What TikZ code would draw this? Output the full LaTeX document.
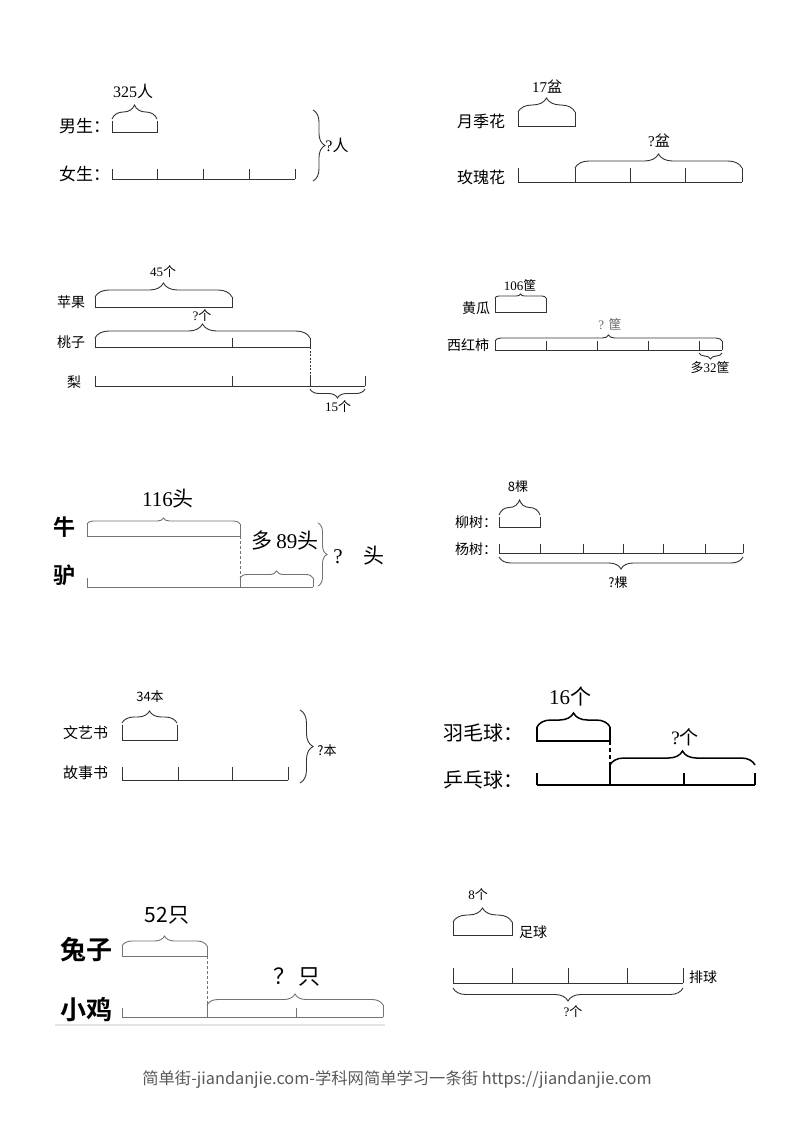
\documentclass[tikz,border=0pt]{standalone}
\usepackage{fontspec}
\setmainfont{Liberation Serif}
\newfontfamily\cjk{Noto Sans CJK SC}[BoldFont={Noto Sans CJK SC Bold}]
\usetikzlibrary{decorations.pathreplacing}
\newcommand\fsz[1]{\fontsize{#1pt}{#1pt}\selectfont}
\begin{document}
\begin{tikzpicture}[x=1pt,y=-1pt,
  ln/.style={line width=0.9pt,draw=black!80},
  thk/.style={line width=1.5pt,draw=black},
  gln/.style={line width=0.9pt,draw=black!55},
  br/.style={decorate,decoration={brace,amplitude=#1},line width=0.9pt,draw=black!80},
  lab/.style={inner sep=0pt,anchor=west},
  val/.style={inner sep=0pt,anchor=center}]
\useasboundingbox[fill=white] (0,0) rectangle (793,1122);

% ---------- 1
\node[lab] (d1a) at (59,126) {\fsz{17}\cjk 男生：};
\node[lab] (d1b) at (59,174) {\fsz{17}\cjk 女生：};
\draw[ln] (112,121) -- (112,132) -- (157,132) -- (157,121);
\draw[br=14] (112,119) -- (157,119);
\node[val] (d1c) at (133,91) {\fsz{16}325\cjk 人};
\draw[ln] (112,179) -- (295,179);
\foreach \xx in {112,157,203,249,295} \draw[ln] (\xx,179) -- (\xx,169);
\draw[br=12] (313,110) -- (313,181);
\node[val] (d1d) at (337,145) {\fsz{16}?\cjk 人};

% ---------- 2
\node[lab] (d2a) at (457,121) {\fsz{16}\cjk 月季花};
\node[lab] (d2b) at (457,177) {\fsz{16}\cjk 玫瑰花};
\draw[ln] (518,112) -- (518,126) -- (575,126) -- (575,112);
\draw[br=14] (518,112) -- (575,112);
\node[val] (d2c) at (547,87) {\fsz{15}17\cjk 盆};
\draw[ln] (518,182) -- (742,182);
\foreach \xx in {518,575,630,685,742} \draw[ln] (\xx,182) -- (\xx,168);
\draw[br=14] (575,168) -- (742,168);
\node[val] (d2d) at (659,141) {\fsz{15}?\cjk 盆};

% ---------- 3
\node[lab] (d3a) at (57,302) {\fsz{14}\cjk 苹果};
\node[lab] (d3b) at (57,342) {\fsz{14}\cjk 桃子};
\node[lab] (d3c) at (67,382) {\fsz{14}\cjk 梨};
\draw[ln] (95,297) -- (95,307) -- (232,307) -- (232,297);
\draw[br=14] (95,297) -- (232,297);
\node[val] (d3d) at (163,272) {\fsz{13}45\cjk 个};
\draw[ln] (95,347) -- (310,347);
\foreach \xx in {95,232,310} \draw[ln] (\xx,347) -- (\xx,338);
\draw[br=14] (95,338) -- (310,338);
\node[val] (d3e) at (202,316) {\fsz{13}?\cjk 个};
\draw[ln,dashed,dash pattern=on 2pt off 1.5pt] (310,347) -- (310,386);
\draw[ln] (95,386) -- (365,386);
\foreach \xx in {95,232,310,365} \draw[ln] (\xx,386) -- (\xx,376);
\draw[br=9] (365,389) -- (310,389);
\node[val] (d3f) at (338,407) {\fsz{13}15\cjk 个};

% ---------- 4
\node[lab] (d4a) at (462,308) {\fsz{14}\cjk 黄瓜};
\node[lab] (d4b) at (447,345) {\fsz{14}\cjk 西红柿};
\draw[ln] (495,298) -- (495,312) -- (546,312) -- (546,298);
\draw[br=4] (495,298) -- (546,298);
\node[val] (d4c) at (520,285) {\fsz{13}106\cjk 筐};
\draw[ln] (495,350) -- (722,350);
\foreach \xx in {495,546,597,648,699,722} \draw[ln] (\xx,350) -- (\xx,341);
\draw[br=6] (495,341) -- (722,341);
\node[val,text=black!60] (d4d) at (610,324) {\fsz{13}?\,\,\cjk 筐};
\draw[br=6] (722,353) -- (699,353);
\node[val] (d4e) at (710,368) {\fsz{13}\cjk 多\rmfamily 32\cjk 筐};

% ---------- 5
\node[lab] (d5a) at (53,527) {\fsz{22}\cjk\bfseries 牛};
\node[lab] (d5b) at (53,575) {\fsz{22}\cjk\bfseries 驴};
\draw[gln] (87,524) -- (87,536) -- (240,536) -- (240,524);
\draw[br=6,draw=black!55] (87,524) -- (240,524);
\node[val] (d5c) at (168,499) {\fsz{21}116\cjk 头};
\draw[gln] (87,587) -- (313,587);
\foreach \xx in {87,240,313} \draw[gln] (\xx,587) -- (\xx,578);
\draw[br=7,draw=black!55] (240,578) -- (313,578);
\draw[gln,dashed,dash pattern=on 3pt off 2pt] (240,536) -- (240,587);
\node[val] (d5d) at (285,541) {\fsz{21}\cjk 多\,\rmfamily 89\cjk 头};
\draw[br=9,draw=black!55] (318,523) -- (318,586);
\node[val] (d5e) at (359,556) {\fsz{21}?\quad\cjk 头};

% ---------- 6
\node[val] (d6c) at (518,487) {\fsz{13}\cjk 8棵};
\node[lab] (d6a) at (455,522) {\fsz{14}\cjk 柳树：};
\node[lab] (d6b) at (455,549) {\fsz{14}\cjk 杨树：};
\draw[ln] (499,517) -- (499,527) -- (540,527) -- (540,517);
\draw[br=15] (499,515) -- (540,515);
\draw[ln] (499,553) -- (743,553);
\foreach \xx in {499,540,583,623,663,705,743} \draw[ln] (\xx,553) -- (\xx,544);
\draw[br=12] (743,557) -- (499,557);
\node[val] (d6d) at (618,583) {\fsz{13}\cjk ?棵};

% ---------- 7
\node[val] (d7c) at (150,697) {\fsz{13}\cjk 34本};
\node[lab] (d7a) at (63,733) {\fsz{15}\cjk 文艺书};
\node[lab] (d7b) at (63,773) {\fsz{15}\cjk 故事书};
\draw[ln] (122,725) -- (122,740) -- (177,740) -- (177,725);
\draw[br=12] (122,723) -- (177,723);
\draw[ln] (122,780) -- (288,780);
\foreach \xx in {122,178,232,288} \draw[ln] (\xx,780) -- (\xx,767);
\draw[br=13] (300,710) -- (300,783);
\node[val] (d7d) at (327,751) {\fsz{13}\cjk ?本};

% ---------- 8
\node[val] (d8c) at (570,696) {\fsz{21}16\cjk 个};
\node[lab] (d8a) at (443,733) {\fsz{20}\cjk 羽毛球：};
\node[lab] (d8b) at (443,780) {\fsz{20}\cjk 乒乓球：};
\draw[thk] (537,727) -- (537,741) -- (610,741) -- (610,727);
\draw[br=14,draw=black,line width=1.5pt] (537,727) -- (610,727);
\draw[thk,dashed,dash pattern=on 4pt off 3pt] (610,741) -- (610,765);
\draw[thk] (537,785) -- (755,785);
\foreach \xx in {537,684,755} \draw[thk] (\xx,785) -- (\xx,773);
\draw[thk] (610,785) -- (610,765);
\draw[br=14,draw=black,line width=1.5pt] (610,765) -- (755,765);
\node[val] (d8d) at (685,737) {\fsz{19}?\cjk 个};

% ---------- 9
\node[val] (d9c) at (167,915) {\fsz{21}\cjk 52只};
\node[lab] (d9a) at (60,950) {\fsz{26}\cjk\bfseries 兔子};
\node[lab] (d9b) at (60,1010) {\fsz{26}\cjk\bfseries 小鸡};
\draw[gln] (122,946) -- (122,956) -- (207,956) -- (207,946);
\draw[br=10,draw=black!55] (122,946) -- (207,946);
\draw[gln,dashed,dash pattern=on 3pt off 2pt] (207,956) -- (207,1017);
\draw[gln] (122,1017) -- (383,1017);
\foreach \xx in {122,296} \draw[gln] (\xx,1017) -- (\xx,1008);
\draw[gln] (207,1017) -- (207,1005);
\draw[gln] (383,1017) -- (383,1005);
\draw[br=11,draw=black!55] (207,1005) -- (383,1005);
\node[val] (d9d) at (297,977) {\fsz{22}\cjk ？\,只};
\draw[line width=1.2pt,draw=black!10] (55,1025) -- (385,1025);

% ---------- 10
\node[val] (d10c) at (478,895) {\fsz{13}8\cjk 个};
\draw[ln] (453,922) -- (453,935) -- (512,935) -- (512,922);
\draw[br=14] (453,922) -- (512,922);
\node[lab] (d10a) at (519,932) {\fsz{14}\cjk 足球};
\draw[ln] (453,983) -- (683,983);
\foreach \xx in {453,512,568,627,683} \draw[ln] (\xx,983) -- (\xx,968);
\node[lab] (d10b) at (689,977) {\fsz{14}\cjk 排球};
\draw[br=13] (683,988) -- (453,988);
\node[val] (d10d) at (573,1012) {\fsz{13}?\cjk 个};

% ---------- footer
\node[val,text=black!65] (ft) at (397,1080) {\fsz{16.3}\cjk 简单街-jiandanjie.com-学科网简单学习一条街 https://jiandanjie.com};
\end{tikzpicture}
\end{document}
